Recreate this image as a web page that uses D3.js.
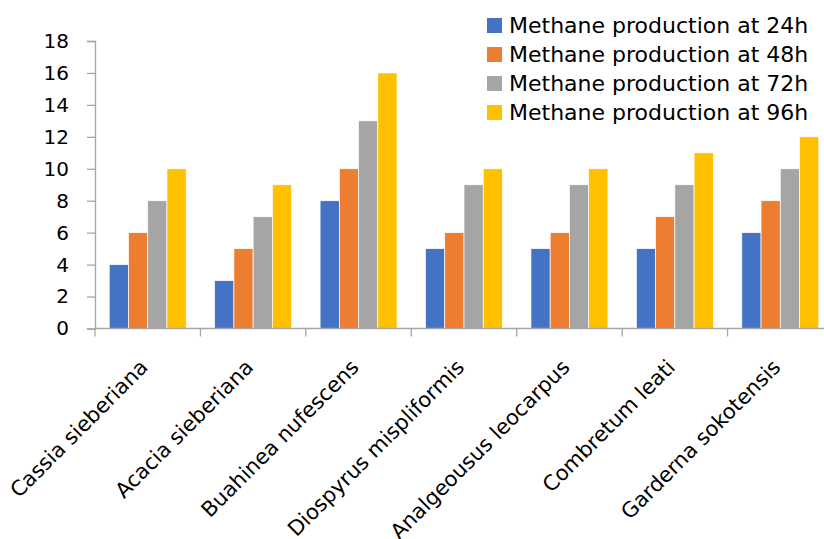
<!DOCTYPE html>
<html>
<head>
<meta charset="utf-8">
<script src="https://cdn.jsdelivr.net/npm/d3@7"></script>
<style>
  body { margin: 0; background: #fff; }
  svg { display: block; font-family: "DejaVu Sans", sans-serif; }
</style>
</head>
<body>
<svg width="824" height="539"></svg>
<script>
// data
var species = ["Cassia sieberiana", "Acacia sieberiana", "Buahinea nufescens",
  "Diospyrus mispliformis", "Analgeousus leocarpus", "Combretum leati", "Garderna sokotensis"];
var seriesNames = ["Methane production at 24h", "Methane production at 48h",
  "Methane production at 72h", "Methane production at 96h"];
var at24h = [4, 3, 8, 5, 5, 5, 6];
var at48h = [6, 5, 10, 6, 6, 7, 8];
var at72h = [8, 7, 13, 9, 9, 9, 10];
var at96h = [10, 9, 16, 10, 10, 11, 12];
var yTicks = [0, 2, 4, 6, 8, 10, 12, 14, 16, 18];
var colors = ["#4472C4", "#ED7D31", "#A5A5A5", "#FFC000"];

var allSeries = [at24h, at48h, at72h, at96h];
var fontFam = "'DejaVu Sans', sans-serif";

var svg = d3.select("svg");

// plot area (right side runs past the window edge, like the original)
var x0 = d3.scaleBand()
    .domain(species)
    .range([95, 833])
    .paddingInner(0.27)
    .paddingOuter(0.135);
var x1 = d3.scaleBand()
    .domain(d3.range(4))
    .range([0, x0.bandwidth()]);
var y = d3.scaleLinear()
    .domain([0, 18])
    .range([328.5, 41]);

var step = x0.step();

// bars
var groups = svg.append("g")
    .selectAll("g")
    .data(species)
    .enter()
    .append("g")
    .attr("transform", function (d) { return "translate(" + x0(d) + ",0)"; });

groups.selectAll("rect")
    .data(function (d, i) {
        return allSeries.map(function (s, k) { return {k: k, v: s[i]}; });
    })
    .enter()
    .append("rect")
    .attr("x", function (d) { return x1(d.k); })
    .attr("width", x1.bandwidth())
    .attr("y", function (d) { return y(d.v); })
    .attr("height", function (d) { return y(0) - y(d.v); })
    .attr("fill", function (d) { return colors[d.k]; })
    .style("stroke", "#fff")
    .style("stroke-width", 0.7);

// y axis
var yAxis = svg.append("g")
    .attr("transform", "translate(95,0)")
    .call(d3.axisLeft(y).tickValues(yTicks).tickSize(8).tickPadding(18));
yAxis.attr("font-size", 20).attr("font-family", fontFam);
yAxis.select(".domain").attr("stroke", "#a6a6a6").attr("stroke-width", 1.3);
yAxis.selectAll(".tick line").attr("stroke", "#a6a6a6").attr("stroke-width", 1.3);
yAxis.selectAll("text").attr("fill", "#000");

// x axis with ticks between the categories
var xa = svg.append("g");
xa.append("line")
    .attr("x1", 95).attr("x2", 833)
    .attr("y1", y(0)).attr("y2", y(0))
    .attr("stroke", "#a6a6a6").attr("stroke-width", 1.3);
xa.selectAll("line.tick")
    .data(d3.range(species.length + 1))
    .enter()
    .append("line")
    .attr("class", "tick")
    .attr("x1", function (i) { return 95 + i * step; })
    .attr("x2", function (i) { return 95 + i * step; })
    .attr("y1", y(0))
    .attr("y2", y(0) + 8)
    .attr("stroke", "#a6a6a6").attr("stroke-width", 1.3);

xa.selectAll("text")
    .data(species)
    .enter()
    .append("text")
    .attr("transform", function (d) {
        return "translate(" + (x0(d) + x0.bandwidth() / 2 + 1.5) + "," + (y(0) + 40) + ") rotate(-45)";
    })
    .attr("text-anchor", "end")
    .attr("font-size", 21)
    .attr("font-family", fontFam)
    .attr("fill", "#000")
    .text(function (d) { return d; });

// legend
var legend = svg.append("g")
    .selectAll("g")
    .data(seriesNames)
    .enter()
    .append("g")
    .attr("transform", function (d, i) { return "translate(487," + (18 + i * 29) + ")"; });

legend.append("rect")
    .attr("width", 15)
    .attr("height", 15)
    .attr("fill", function (d, i) { return colors[i]; });

legend.append("text")
    .attr("x", 22)
    .attr("y", 7.5)
    .attr("dy", "0.35em")
    .attr("font-size", 22)
    .attr("font-family", fontFam)
    .attr("fill", "#000")
    .text(function (d) { return d; });
</script>
</body>
</html>
